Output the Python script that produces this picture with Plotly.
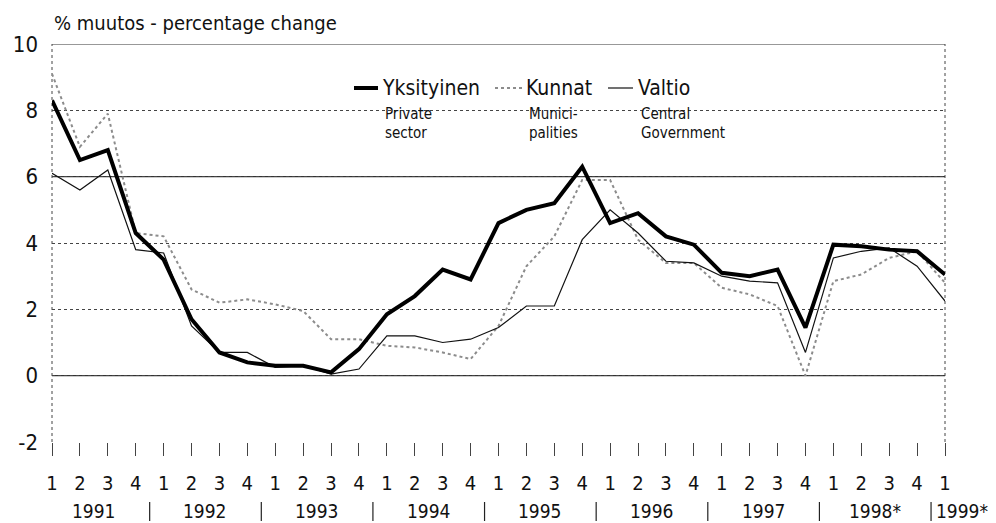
import plotly.graph_objects as go

# ---- data ----
quarters = ["1", "2", "3", "4"] * 8 + ["1"]
years = ["1991", "1992", "1993", "1994", "1995", "1996", "1997", "1998*", "1999*"]
private = [8.3, 6.5, 6.8, 4.3, 3.5, 1.7, 0.7, 0.4, 0.3, 0.3, 0.1, 0.8, 1.85, 2.4, 3.2, 2.9,
           4.6, 5.0, 5.2, 6.3, 4.6, 4.9, 4.2, 3.95, 3.1, 3.0, 3.2, 1.45, 3.95, 3.9, 3.8, 3.75, 3.05]
kunnat = [9.1, 6.9, 7.9, 4.3, 4.2, 2.6, 2.2, 2.3, 2.15, 1.95, 1.1, 1.1, 0.9, 0.85, 0.7, 0.5,
          1.5, 3.3, 4.2, 5.9, 5.9, 4.1, 3.4, 3.4, 2.65, 2.45, 2.1, 0.0, 2.85, 3.05, 3.55, 3.75, 2.8]
valtio = [6.1, 5.6, 6.2, 3.8, 3.7, 1.5, 0.7, 0.7, 0.25, 0.3, 0.05, 0.2, 1.2, 1.2, 1.0, 1.1,
          1.45, 2.1, 2.1, 4.1, 5.0, 4.3, 3.45, 3.4, 3.0, 2.85, 2.8, 0.7, 3.55, 3.75, 3.85, 3.3, 2.25]
y_ticks = [-2, 0, 2, 4, 6, 8, 10]
y_labels = ["-2", "0", "2", "4", "6", "8", "10"]

FONT = "Liberation Sans Narrow, DejaVu Sans Condensed, Roboto Condensed, Arial Narrow, Liberation Sans, sans-serif"
x = list(range(len(quarters)))

# page body has an 8px default margin -> size figure to fit window exactly
OFF = 8
W, H = 996 - OFF, 523 - OFF
ML, MT = 52 - OFF, 44 - OFF
MR = W - (945 - OFF)
MB = H - (442 - OFF)
PW, PH = W - ML - MR, H - MT - MB


def px_x(p):  # window pixel -> paper
    return (p - OFF - ML) / PW


def px_y(p):
    return (H - MB - (p - OFF)) / PH


fig = go.Figure()
fig.add_trace(go.Scatter(x=x, y=kunnat, mode="lines", name="Kunnat",
                         line=dict(color="#8c8c8c", width=2, dash="dot")))
fig.add_trace(go.Scatter(x=x, y=valtio, mode="lines", name="Valtio",
                         line=dict(color="#111111", width=1.2)))
fig.add_trace(go.Scatter(x=x, y=private, mode="lines", name="Yksityinen",
                         line=dict(color="#000000", width=4)))

shapes = []
for v in (0, 6, 10):
    shapes.append(dict(type="line", xref="paper", yref="y", x0=0, x1=1, y0=v, y1=v,
                       line=dict(color="#333", width=1.2), layer="below"))
for xv in (0, 1):
    shapes.append(dict(type="line", xref="paper", yref="paper", x0=xv, x1=xv, y0=0, y1=1,
                       line=dict(color="#444", width=1, dash="dot"), layer="below"))
for i in range(len(years) - 1):
    sx = 4 * i + 3.5
    shapes.append(dict(type="line", xref="x", yref="paper", x0=sx, x1=sx,
                       y0=px_y(502), y1=px_y(521), line=dict(color="#222", width=1.2)))

leg = [(354, 378, "#000", 4, "solid"), (495, 522, "#8c8c8c", 2, "dot"), (608, 633, "#111", 1.2, "solid")]
for x0, x1, c, w, d in leg:
    shapes.append(dict(type="line", xref="paper", yref="paper", x0=px_x(x0), x1=px_x(x1),
                       y0=px_y(88), y1=px_y(88), line=dict(color=c, width=w, dash=d)))

annotations = []
annotations.append(dict(text="% muutos - percentage change", xref="paper", yref="paper",
                        x=px_x(52), y=px_y(23), xanchor="left", yanchor="middle", showarrow=False,
                        font=dict(family=FONT, size=20, color="#111")))
for i, yl in enumerate(years):
    if i < len(years) - 1:
        annotations.append(dict(text=yl, xref="x", yref="paper", x=4 * i + 1.5, y=px_y(511),
                                xanchor="center", yanchor="middle", showarrow=False,
                                font=dict(family=FONT, size=19, color="#111")))
    else:
        annotations.append(dict(text=yl, xref="x", yref="paper", x=4 * i - 0.5, xshift=3, y=px_y(511),
                                xanchor="left", yanchor="middle", showarrow=False,
                                font=dict(family=FONT, size=19, color="#111")))

legend_text = [
    (380, "Yksityinen", ["Private", "sector"]),
    (524, "Kunnat", ["Munici-", "palities"]),
    (636, "Valtio", ["Central", "Government"]),
]
for lx, main, subs in legend_text:
    annotations.append(dict(text=main, xref="paper", yref="paper", x=px_x(lx), y=px_y(88),
                            xanchor="left", yanchor="middle", showarrow=False,
                            font=dict(family=FONT, size=21, color="#111")))
    annotations.append(dict(text=subs[0], xref="paper", yref="paper", x=px_x(lx + 3), y=px_y(114),
                            xanchor="left", yanchor="middle", showarrow=False,
                            font=dict(family=FONT, size=15, color="#111")))
    annotations.append(dict(text=subs[1], xref="paper", yref="paper", x=px_x(lx + 3), y=px_y(133),
                            xanchor="left", yanchor="middle", showarrow=False,
                            font=dict(family=FONT, size=15, color="#111")))

fig.update_layout(
    width=W, height=H,
    margin=dict(l=ML, r=MR, t=MT, b=MB, autoexpand=False),
    paper_bgcolor="white", plot_bgcolor="white",
    showlegend=False,
    shapes=shapes, annotations=annotations,
    font=dict(family=FONT, color="#111"),
)
fig.update_xaxes(range=[0, 32], tickvals=x, ticktext=quarters, ticks="outside", ticklen=13,
                 tickcolor="#444", tickwidth=1, showgrid=False, zeroline=False, showline=False,
                 tickfont=dict(family=FONT, size=20, color="#111"), ticklabelstandoff=10,
                 automargin=False)
fig.update_yaxes(range=[-2, 10], tickvals=y_ticks, ticktext=y_labels, showgrid=True, gridcolor="#444",
                 griddash="dot", gridwidth=1, zeroline=False, showline=False, ticks="",
                 tickfont=dict(family=FONT, size=22, color="#111"), ticklabelstandoff=13,
                 automargin=False)

fig.write_html("out.html")
